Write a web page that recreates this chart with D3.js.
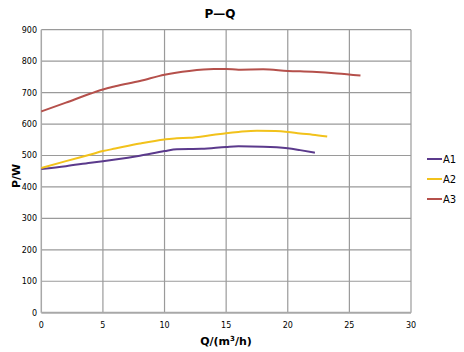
<!DOCTYPE html>
<html><head><meta charset="utf-8">
<script src="https://cdn.jsdelivr.net/npm/d3@7"></script>
<style>body{margin:0;background:#fff}svg{display:block}text{font-family:Verdana,"DejaVu Sans",sans-serif}</style>
</head><body>
<svg id="c" width="464" height="352"></svg>
<script>
const seriesNames = ["A1","A2","A3"];
const seriesColors = ["#5b3a8c","#f2c21b","#b5504b"];
const a1Q = [0,2,4,5,6,8,10,11,13,15,16,18,20,21,22.2];
const a1P = [457,466,477,482,487,499,514,520,521,527,529,528,523,517,509];
const a2Q = [0,2,4,5,6,8,10,11,12,14,15,16,17.5,19,20,21,22,23.2];
const a2P = [460,482,503,514,522,538,551,555,556,566,571,575,579,578,575,570,566,560];
const a3Q = [0,2,4,5,6,8,10,12,14,15,16,18,20,22,24,25.9];
const a3P = [640,668,697,710,720,737,757,769,775,775,773,774,769,766,761,754];
const xTicks = [0,5,10,15,20,25,30];
const yTicks = [0,100,200,300,400,500,600,700,800,900];

const svg = d3.select("#c");
const x = d3.scaleLinear().domain([0,30]).range([41.3,411]);
const y = d3.scaleLinear().domain([0,900]).range([312.7,29.7]);

// grid
svg.append("g").selectAll("line").data(xTicks.slice(1)).join("line")
  .attr("x1",d=>x(d)).attr("x2",d=>x(d)).attr("y1",y(900)).attr("y2",y(0))
  .attr("stroke","#9a9a9a").attr("stroke-width",1.2);
svg.append("g").selectAll("line").data(yTicks.slice(1)).join("line")
  .attr("x1",x(0)).attr("x2",x(30)).attr("y1",d=>y(d)).attr("y2",d=>y(d))
  .attr("stroke","#9a9a9a").attr("stroke-width",1.2);
// axes lines
svg.append("line").attr("x1",x(0)).attr("x2",x(0)).attr("y1",y(900)).attr("y2",y(0)).attr("stroke","#a8a8a8").attr("stroke-width",1.5);
svg.append("line").attr("x1",x(0)).attr("x2",x(30)).attr("y1",y(0)).attr("y2",y(0)).attr("stroke","#a8a8a8").attr("stroke-width",2);

// tick labels
svg.append("g").selectAll("text").data(yTicks).join("text")
  .attr("x",37).attr("y",d=>y(d)+3).attr("text-anchor","end")
  .attr("font-size",8).attr("fill","#000").text(d=>d);
svg.append("g").selectAll("text").data(xTicks).join("text")
  .attr("x",d=>x(d)).attr("y",328).attr("text-anchor","middle")
  .attr("font-size",8).attr("fill","#000").text(d=>d);

// lines
const data = [[a1Q,a1P],[a2Q,a2P],[a3Q,a3P]];
const line = d3.line().x(d=>x(d[0])).y(d=>y(d[1])).curve(d3.curveMonotoneX);
data.forEach((s,i)=>{
  const pts = s[0].map((q,j)=>[q,s[1][j]]);
  svg.append("path").datum(pts).attr("d",line).attr("fill","none")
    .attr("stroke",seriesColors[i]).attr("stroke-width",2);
});

// legend
seriesNames.forEach((n,i)=>{
  const ly = 159 + i*20;
  svg.append("line").attr("x1",427).attr("x2",442).attr("y1",ly).attr("y2",ly)
    .attr("stroke",seriesColors[i]).attr("stroke-width",2);
  svg.append("text").attr("x",443).attr("y",ly+4).attr("font-size",10).attr("fill","#000").text(n);
});

// titles
svg.append("text").attr("x",220).attr("y",18).attr("text-anchor","middle")
  .attr("font-size",12).attr("font-weight","bold").text("P—Q");
const xt = svg.append("text").attr("x",226).attr("y",345).attr("text-anchor","middle")
  .attr("font-size",11).attr("font-weight","bold");
xt.append("tspan").text("Q/(m");
xt.append("tspan").attr("font-size",7).attr("dy",-4).text("3");
xt.append("tspan").attr("dy",4).text("/h)");
svg.append("text").attr("transform","translate(20,176) rotate(-90)").attr("text-anchor","middle")
  .attr("font-size",11).attr("font-weight","bold").text("P/W");
</script>
</body></html>
